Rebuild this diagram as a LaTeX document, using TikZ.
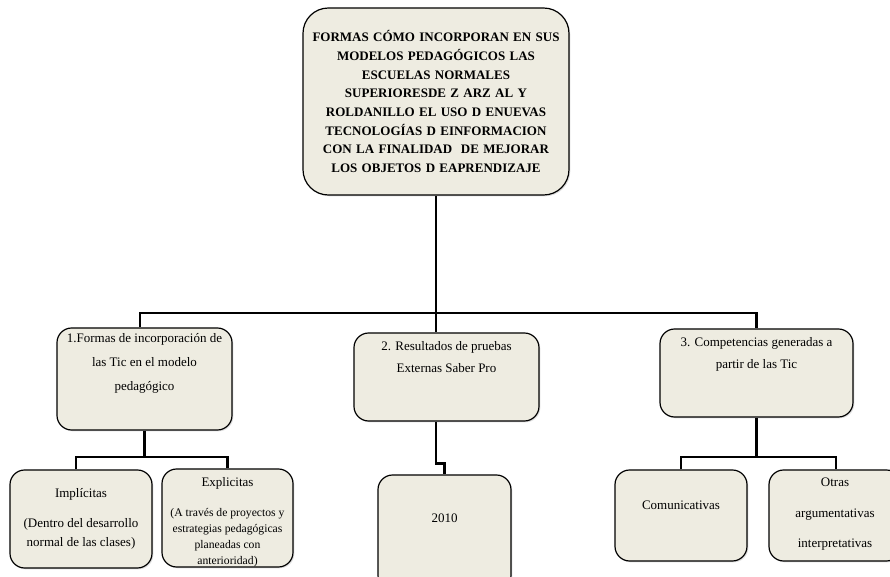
\documentclass[tikz,border=0pt]{standalone}
\usepackage{fontspec}
\setmainfont{Liberation Serif}
\usepackage{xcolor}
\usetikzlibrary{positioning,shadows}

\definecolor{paper}{HTML}{EEECE1}
\newcommand{\celltext}[4]{\parbox[c][#2][t]{#1}{\centering\vspace*{#3}#4\par}}

\begin{document}
\begin{tikzpicture}[
  x=0.75pt, y=-0.75pt,
  entry/.style={rectangle, draw, line width=0.9pt, rounded corners=11pt,
    fill=paper, inner sep=0pt, font=\fontsize{9.75}{13}\selectfont,
    drop shadow={opacity=0.25, shadow xshift=1pt, shadow yshift=-1pt}},
  headbox/.style={entry, rounded corners=19pt, text width=195pt, align=center,
    minimum width=199.5pt, minimum height=140.25pt,
    font=\bfseries\fontsize{9.75}{14}\selectfont},
  conn/.style={line width=2pt},
]
  \useasboundingbox (0,0) rectangle (890,577);

  \node[headbox] (top) at (436,101.5) {FORMAS CÓMO INCORPORAN EN SUS\\MODELOS PEDAGÓGICOS LAS\\ESCUELAS NORMALES\\SUPERIORESDE Z ARZ AL Y\\ROLDANILLO EL USO D ENUEVAS\\TECNOLOGÍAS D EINFORMACION\\CON LA FINALIDAD \ DE MEJORAR\\LOS OBJETOS D EAPRENDIZAJE};

  % second level
  \node[entry] (b1) at (144.5,379) {\celltext{131.25pt}{76.5pt}{4pt}{1.Formas de incorporación de\\[5pt]las Tic en el modelo\\[5pt]pedagógico}};
  \node[entry] (b2) at (446.5,377) {\celltext{138.75pt}{66pt}{6.2pt}{2. Resultados de pruebas\\[3.5pt]Externas Saber Pro}};
  \node[entry] (b3) at (756.5,373) {\celltext{144.75pt}{66pt}{6.2pt}{3. Competencias generadas a\\[3.5pt]partir de las Tic}};

  % third level
  \node[entry] (impl) at (81,519) {\celltext{106.5pt}{73.5pt}{13.5pt}{Implícitas\\[9.5pt](Dentro del desarrollo\\[1.25pt]normal de las clases)}};
  \node[entry] (expl) at (227.5,518) {\celltext{98.25pt}{73.5pt}{6.2pt}{Explicitas\\[10.5pt]{\fontsize{8.75}{12}\selectfont (A través de proyectos y\\estrategias pedagógicas\\planeadas con\\anterioridad)\par}}};
  \node[entry] (yr) at (444.5,532.5) {\celltext{99.75pt}{86.25pt}{29.5pt}{2010}};
  \node[entry] (comm) at (681,515.5) {\celltext{99pt}{68.25pt}{23.5pt}{Comunicativas}};
  \node[entry] (other) at (835,515.5) {\celltext{99pt}{68.25pt}{5.6pt}{Otras\\[10.25pt]argumentativas\\[9.5pt]interpretativas}};

  \coordinate (bar) at (0,313);
  \coordinate (sub) at (0,457);

  \draw[conn] (top.south) -- (top.south |- b2.north);
  \draw[conn] ([xshift=-3.4pt]b1.north) |- (b3.north |- bar) -- (b3.north);
  \draw[conn] (b1.south) -- (b1.south |- sub);
  \draw[conn] ([xshift=-3.75pt]impl.north) |- (expl.north |- sub) -- (expl.north);
  \draw[conn] ([xshift=-7.9pt]b2.south) -- ++(0,42) -| (yr.north);
  \draw[conn] (b3.south) -- (b3.south |- sub);
  \draw[conn] (comm.north) |- ([xshift=0.75pt]other.north |- sub) -- ([xshift=0.75pt]other.north);
\end{tikzpicture}
\end{document}
